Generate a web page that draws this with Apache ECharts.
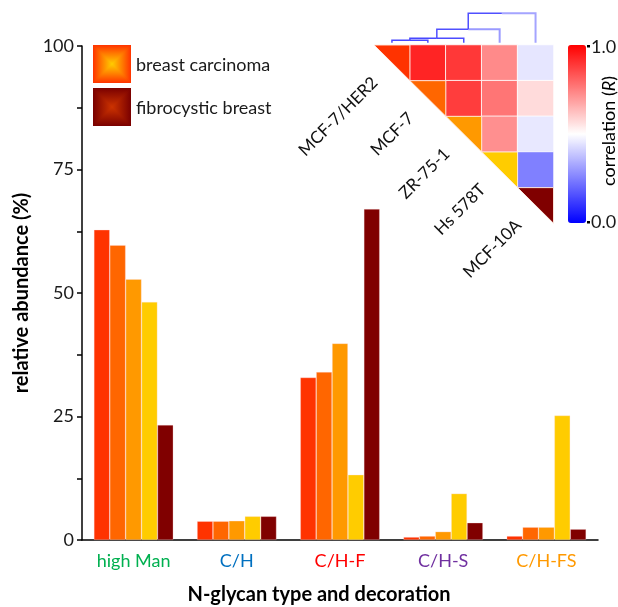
<!DOCTYPE html>
<html><head><meta charset="utf-8">
<script src="https://cdn.jsdelivr.net/npm/echarts@6/dist/echarts.min.js"></script>
<style>html,body{margin:0;padding:0;background:#fff}#c{width:618px;height:607px}</style>
</head><body><div id="c"></div>
<script>
// ---------- data ----------
const categories = ['high Man', 'C/H', 'C/H-F', 'C/H-S', 'C/H-FS'];
const categoryColors = ['#00B050', '#0070C0', '#FF0000', '#7030A0', '#FF9900'];
const cellLines = ['MCF-7/HER2', 'MCF-7', 'ZR-75-1', 'Hs 578T', 'MCF-10A'];
const cellLineColors = ['#FF3300', '#FF6600', '#FF9900', '#FFCC00', '#800000'];
const mcf7her2 = [62.8, 3.8, 32.9, 0.6, 0.8];
const mcf7     = [59.7, 3.8, 34.0, 0.8, 2.6];
const zr751    = [52.8, 3.9, 39.8, 1.7, 2.6];
const hs578t   = [48.2, 4.8, 13.2, 9.4, 25.2];
const mcf10a   = [23.3, 4.8, 67.0, 3.5, 2.2];
const yTickValues = [0, 25, 50, 75, 100];
const legendLabels = ['breast carcinoma', 'fibrocystic breast'];
// correlation matrix, upper triangle: [col, row, R]
const corrCells = [[1,0,0.93],[2,0,0.89],[3,0,0.73],[4,0,0.45],
                   [2,1,0.88],[3,1,0.77],[4,1,0.57],
                   [3,2,0.72],[4,2,0.455],
                   [4,3,0.25]];
// dendrogram merges (scipy style): [a, b, height]; ids >= 5 are clusters
const dendroMerges = [[0,1,0.05],[5,2,0.09],[6,3,0.27],[7,4,0.59]];
const colorbarLabels = ['1.0', '0.0'];

// ---------- build ----------
const barSeriesData = [mcf7her2, mcf7, zr751, hs578t, mcf10a];
const FONT = 'Lato, "Open Sans", sans-serif';

const barSeries = barSeriesData.map((d, i) => ({
  name: cellLines[i], type: 'bar', data: d,
  xAxisIndex: 0, yAxisIndex: 0,
  barGap: '0%', barCategoryGap: '23%',
  itemStyle: { color: cellLineColors[i], borderColor: 'rgba(255,220,220,0.5)', borderWidth: 0.6 },
  emphasis: { disabled: true }
}));

// dendrogram lines
const nodePos = {};
for (let i = 0; i < 5; i++) nodePos[i] = [i, 0];
const dendroLines = [];
const legColors = [['#4848FF','#4848FF'],['#4848FF','#4C4CFF'],['#5050FF','#9A9AFF'],['#5050FF','#A4A4FF']];
dendroMerges.forEach((m, k) => {
  const a = nodePos[m[0]], b = nodePos[m[1]], h = m[2];
  dendroLines.push({ coords: [[a[0], a[1]], [a[0], h], [(a[0]+b[0])/2, h]], lineStyle: { color: legColors[k][0] } });
  dendroLines.push({ coords: [[(a[0]+b[0])/2, h], [b[0], h], [b[0], b[1]]], lineStyle: { color: legColors[k][1], width: k >= 2 ? 2 : 1.5 } });
  nodePos[5 + k] = [(a[0]+b[0])/2, h];
});

const diagData = cellLines.map((n, i) => [i, i]);

// box-gradient legend swatch: radial base + four gradient triangles
function boxSwatch(x, y, s, stops) {
  const cx = x + s / 2, cy = y + s / 2;
  const rev = stops.map(st => ({ offset: 1 - st.offset, color: st.color })).reverse();
  const tri = (pts, gx, gy, gx2, gy2) => ({
    type: 'polygon', shape: { points: pts },
    style: { fill: new echarts.graphic.LinearGradient(gx, gy, gx2, gy2, stops), stroke: null }
  });
  return [
    { type: 'rect', shape: { x: x, y: y, width: s, height: s },
      style: { fill: new echarts.graphic.RadialGradient(0.5, 0.5, 0.6, rev) } },
    tri([[x, y], [x + s, y], [cx, cy]], 0, 0, 0, 1),
    tri([[x, y + s], [x + s, y + s], [cx, cy]], 0, 1, 0, 0),
    tri([[x, y], [x, y + s], [cx, cy]], 0, 0, 1, 0),
    tri([[x + s, y], [x + s, y + s], [cx, cy]], 1, 0, 0, 0)
  ];
}
const swatch1 = boxSwatch(93, 45, 38, [{ offset: 0, color: '#FF3300' }, { offset: 0.45, color: '#FF7A00' }, { offset: 1, color: '#FFCC00' }]);
const swatch2 = boxSwatch(93, 88, 38, [{ offset: 0, color: '#7A0000' }, { offset: 1, color: '#CC3300' }]);

const chart = echarts.init(document.getElementById('c'), null, { renderer: 'canvas' });
chart.setOption({
  animation: false,
  textStyle: { fontFamily: FONT },
  grid: [
    { left: 82, right: 20, top: 46, bottom: 67, containLabel: false, outerBoundsMode: 'none' },
    { left: 374, top: 45, width: 179.5, height: 178.3, outerBoundsMode: 'none' },
    { left: 374, top: 10.7, width: 179.5, height: 32, outerBoundsMode: 'none' }
  ],
  xAxis: [
    { type: 'category', data: categories, gridIndex: 0,
      axisLine: { lineStyle: { color: '#000', width: 1.5 } },
      axisTick: { length: 5, lineStyle: { color: '#000', width: 1.5 } },
      axisLabel: { fontSize: 18, margin: 12, fontFamily: FONT, color: (v, i) => categoryColors[categories.indexOf(v)] },
      name: 'N-glycan type and decoration', nameLocation: 'middle', nameGap: 45,
      nameTextStyle: { fontSize: 20, fontWeight: 'bold', color: '#000', fontFamily: FONT, padding: [0, 42, 0, 0] } },
    { type: 'category', data: [0,1,2,3,4], gridIndex: 1, show: false },
    { type: 'value', gridIndex: 2, min: -0.5, max: 4.5, show: false }
  ],
  yAxis: [
    { type: 'value', gridIndex: 0, min: 0, max: 100, interval: 25,
      axisLine: { show: true, lineStyle: { color: '#000', width: 1.5 } },
      axisTick: { show: true, length: 5, lineStyle: { color: '#000', width: 1.5 } },
      minorTick: { show: true, splitNumber: 2, length: 5, lineStyle: { color: '#000', width: 1.5 } },
      splitLine: { show: false },
      axisLabel: { fontSize: 18, margin: 8, color: '#1a1a1a', fontFamily: FONT,
        formatter: v => yTickValues.includes(v) ? String(v) : '' },
      name: 'relative abundance (%)', nameLocation: 'middle', nameGap: 47, nameRotate: 90,
      nameTextStyle: { fontSize: 20, fontWeight: 'bold', color: '#000', fontFamily: FONT } },
    { type: 'category', data: [0,1,2,3,4], gridIndex: 1, inverse: true, show: false },
    { type: 'value', gridIndex: 2, min: 0, max: 0.64, show: false }
  ],
  visualMap: {
    type: 'continuous', seriesIndex: 5, min: 0, max: 1,
    inRange: { color: ['#0000FF', '#FFFFFF', '#FF0000'] },
    left: 568, top: 45, itemWidth: 18, itemHeight: 178, padding: 0,
    calculable: false, hoverLink: false, text: null, show: true
  },
  series: [
    ...barSeries,
    { type: 'heatmap', xAxisIndex: 1, yAxisIndex: 1, data: corrCells,
      itemStyle: { borderColor: 'rgba(255,255,255,0.85)', borderWidth: 1 },
      emphasis: { disabled: true } },
    { type: 'custom', xAxisIndex: 1, yAxisIndex: 1, data: diagData,
      renderItem: (params, api) => {
        const c = api.coord([api.value(0), api.value(1)]);
        const s = api.size([1, 1]);
        const x0 = c[0] - s[0] / 2, y0 = c[1] - s[1] / 2, x1 = c[0] + s[0] / 2, y1 = c[1] + s[1] / 2;
        const i = params.dataIndex;
        const d = 17;
        return { type: 'group', children: [
          { type: 'polygon', shape: { points: [[x0, y0], [x1, y0], [x1, y1]] },
            style: { fill: cellLineColors[i], stroke: 'rgba(255,235,225,0.9)', lineWidth: 1 } },
          { type: 'text', x: c[0] - d, y: c[1] + d, rotation: Math.PI / 4,
            style: { text: cellLines[i], align: 'right', verticalAlign: 'middle',
              font: '17px ' + FONT, fill: '#111' } }
        ] };
      } },
    { type: 'lines', coordinateSystem: 'cartesian2d', xAxisIndex: 2, yAxisIndex: 2,
      polyline: true, data: dendroLines, lineStyle: { width: 1.5, opacity: 1 }, silent: true }
  ],
  graphic: [
    ...swatch1, ...swatch2,
    { type: 'text', x: 136, y: 65, style: { text: legendLabels[0], font: '18px ' + FONT, fill: '#1a1a1a', verticalAlign: 'middle' } },
    { type: 'text', x: 136, y: 108, style: { text: legendLabels[1], font: '18px ' + FONT, fill: '#1a1a1a', verticalAlign: 'middle' } },
    { type: 'rect', left: 587, top: 45, shape: { width: 3, height: 2.5 }, style: { fill: '#000' } },
    { type: 'rect', left: 587, top: 221, shape: { width: 3, height: 2.5 }, style: { fill: '#000' } },
    { type: 'text', x: 591, y: 47, style: { text: colorbarLabels[0], font: '18px ' + FONT, fill: '#1a1a1a', verticalAlign: 'middle' } },
    { type: 'text', x: 591, y: 222, style: { text: colorbarLabels[1], font: '18px ' + FONT, fill: '#1a1a1a', verticalAlign: 'middle' } },
    { type: 'text', x: 609, y: 131, rotation: Math.PI / 2,
      style: { text: '{a|correlation (}{b|R}{a|)}', align: 'center', verticalAlign: 'middle',
        rich: { a: { fontSize: 18, fontFamily: FONT, color: '#1a1a1a' },
                b: { fontSize: 18, fontFamily: FONT, fontStyle: 'italic', color: '#1a1a1a' } } } }
  ]
});
</script></body></html>
